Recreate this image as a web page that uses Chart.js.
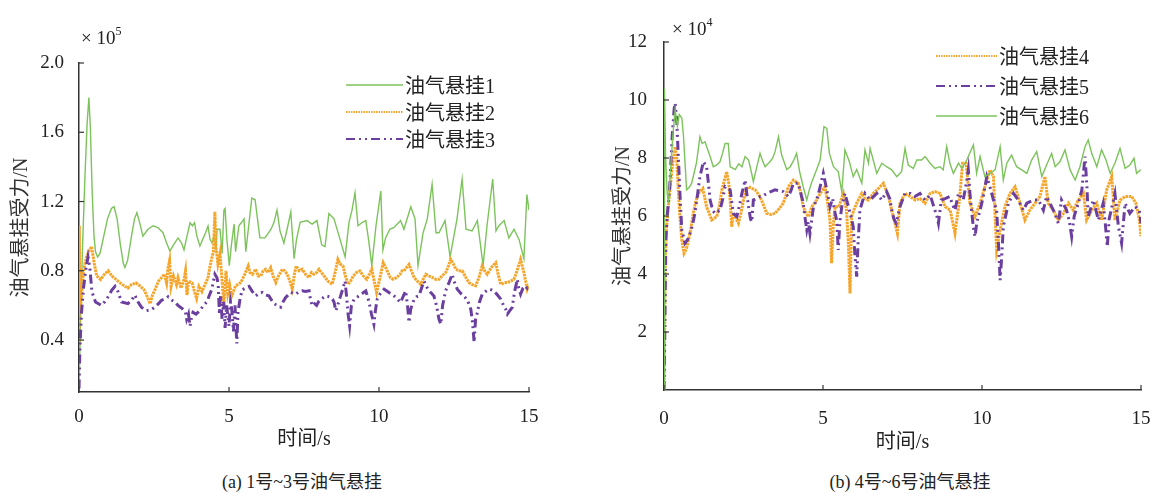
<!DOCTYPE html>
<html>
<head>
<meta charset="utf-8">
<script src="https://cdn.jsdelivr.net/npm/chart.js@4/dist/chart.umd.min.js"></script>
<style>
  html, body { margin: 0; padding: 0; background: #ffffff; }
  body { width: 1151px; height: 493px; position: relative; overflow: hidden; }
  canvas { position: absolute; top: 0; }
  #cA { left: 0; }
  #cB { left: 575px; }
  .mult { position: absolute; font-family: "Liberation Serif", "Times New Roman", Times, serif; font-size: 19px; color: #222; white-space: nowrap; }
  .mult sup { font-size: 12px; position: relative; top: -2px; }
  .cap { position: absolute; top: 470px; font-family: "Liberation Serif", "Times New Roman", Times, "Noto Sans CJK SC", serif; font-size: 18px; line-height: 24px; color: #222; white-space: nowrap; transform: translateX(-50%); }
</style>
</head>
<body>
<canvas id="cA" width="575" height="470"></canvas>
<canvas id="cB" width="576" height="470"></canvas>
<div class="mult" style="left:81px; top:26px;">× 10<sup>5</sup></div>
<div class="mult" style="left:672px; top:17px;">× 10<sup>4</sup></div>
<div class="cap" style="left:302px;">(a) 1号~3号油气悬挂</div>
<div class="cap" style="left:910px;">(b) 4号~6号油气悬挂</div>
<script>
// ---------------- DATA ----------------
const seriesNamesA = ['油气悬挂1', '油气悬挂2', '油气悬挂3'];
const seriesNamesB = ['油气悬挂4', '油气悬挂5', '油气悬挂6'];
const xTicks = [0, 5, 10, 15];
const yTicksA = [0.4, 0.8, 1.2, 1.6, 2.0];
const yTicksB = [2, 4, 6, 8, 10, 12];
const xTitle = '时间/s';
const yTitle = '油气悬挂受力/N';

// [time s, force ×10^5 N]
const susp1 = [[0,0.12],[0.05,0.5],[0.12,0.95],[0.2,1.35],[0.27,1.65],[0.33,1.8],[0.38,1.62],[0.44,1.25],[0.5,1.0],[0.55,0.91],[0.62,0.88],[0.7,0.9],[0.8,0.98],[0.95,1.1],[1.08,1.16],[1.17,1.17],[1.27,1.1],[1.38,0.95],[1.48,0.84],[1.53,0.82],[1.62,0.86],[1.75,1.0],[1.85,1.1],[1.93,1.135],[2.02,1.08],[2.13,1.0],[2.3,1.04],[2.47,1.06],[2.63,1.05],[2.8,1.02],[2.92,0.96],[3.03,0.914],[3.15,0.95],[3.3,0.99],[3.42,0.96],[3.5,0.92],[3.6,1.0],[3.7,1.077],[3.78,1.06],[3.85,1.077],[3.93,1.0],[4.03,0.943],[4.12,0.98],[4.22,1.02],[4.3,1.058],[4.37,0.98],[4.43,0.962],[4.5,1.0],[4.57,0.93],[4.6,1.04],[4.7,1.04],[4.77,0.9],[4.83,1.15],[4.87,1.16],[4.93,0.98],[5.01,0.83],[5.08,0.95],[5.17,1.07],[5.22,0.91],[5.27,0.98],[5.33,1.06],[5.42,1.08],[5.5,1.10],[5.56,0.91],[5.65,1.05],[5.76,1.22],[5.87,1.21],[5.95,1.1],[6.03,0.99],[6.2,0.99],[6.4,1.04],[6.5,1.08],[6.6,1.15],[6.7,1.03],[6.83,0.96],[6.95,1.05],[7.06,1.14],[7.17,0.87],[7.25,0.98],[7.37,1.08],[7.6,1.09],[7.77,1.07],[7.93,1.09],[8.09,0.95],[8.2,0.94],[8.33,1.13],[8.5,1.1],[8.67,1.0],[8.87,0.88],[9.0,1.08],[9.1,1.15],[9.2,1.25],[9.3,1.06],[9.45,1.08],[9.56,1.09],[9.66,0.97],[9.76,0.83],[9.9,1.06],[10.06,1.26],[10.13,0.92],[10.22,0.99],[10.36,1.04],[10.5,1.05],[10.72,1.09],[10.83,1.04],[11.06,1.17],[11.2,1.1],[11.3,0.83],[11.47,1.02],[11.61,1.1],[11.77,1.30],[11.9,1.02],[12.0,1.02],[12.2,1.09],[12.37,0.88],[12.6,1.1],[12.77,1.33],[12.9,1.04],[13.1,1.03],[13.28,1.09],[13.47,0.83],[13.6,1.06],[13.79,1.33],[13.9,1.03],[14.0,1.06],[14.17,1.09],[14.33,0.99],[14.5,1.04],[14.67,0.98],[14.83,0.87],[14.93,1.24],[15.0,1.15]];

const susp2 = [[0,0.37],[0.01,1.06],[0.03,0.55],[0.08,0.65],[0.15,0.8],[0.25,0.88],[0.35,0.92],[0.42,0.94],[0.5,0.85],[0.59,0.77],[0.72,0.75],[0.85,0.78],[0.97,0.8],[1.1,0.77],[1.3,0.74],[1.45,0.72],[1.63,0.70],[1.75,0.72],[1.9,0.73],[2.05,0.71],[2.17,0.69],[2.3,0.64],[2.37,0.61],[2.45,0.66],[2.53,0.69],[2.65,0.74],[2.75,0.76],[2.85,0.78],[2.92,0.73],[2.97,0.82],[3.02,0.86],[3.07,0.71],[3.15,0.77],[3.25,0.72],[3.3,0.76],[3.4,0.7],[3.5,0.75],[3.55,0.8],[3.6,0.66],[3.65,0.74],[3.77,0.73],[3.85,0.68],[3.92,0.64],[4.0,0.71],[4.1,0.68],[4.2,0.72],[4.3,0.76],[4.37,0.83],[4.45,0.89],[4.48,0.91],[4.53,1.14],[4.56,0.95],[4.63,0.84],[4.7,0.9],[4.77,0.74],[4.83,0.6],[4.9,0.8],[4.96,0.67],[5.02,0.72],[5.09,0.655],[5.22,0.713],[5.39,0.732],[5.5,0.77],[5.64,0.828],[5.7,0.79],[5.78,0.78],[5.89,0.809],[5.97,0.77],[6.06,0.77],[6.14,0.8],[6.22,0.809],[6.3,0.79],[6.39,0.818],[6.47,0.77],[6.56,0.732],[6.65,0.77],[6.78,0.809],[6.86,0.8],[6.94,0.78],[7.03,0.74],[7.11,0.694],[7.18,0.78],[7.24,0.828],[7.34,0.8],[7.44,0.809],[7.55,0.78],[7.67,0.761],[7.75,0.79],[7.83,0.78],[7.92,0.79],[8.0,0.809],[8.08,0.79],[8.17,0.77],[8.3,0.74],[8.44,0.722],[8.55,0.8],[8.63,0.866],[8.7,0.84],[8.8,0.828],[8.88,0.77],[8.97,0.722],[9.05,0.74],[9.14,0.77],[9.25,0.79],[9.36,0.799],[9.48,0.77],[9.59,0.751],[9.68,0.78],[9.76,0.809],[9.84,0.74],[9.92,0.675],[10.02,0.75],[10.14,0.847],[10.22,0.82],[10.3,0.79],[10.38,0.76],[10.47,0.751],[10.58,0.76],[10.7,0.78],[10.77,0.8],[10.83,0.799],[10.92,0.82],[11.0,0.837],[11.08,0.8],[11.17,0.761],[11.28,0.74],[11.39,0.722],[11.47,0.75],[11.56,0.78],[11.67,0.77],[11.78,0.761],[11.9,0.75],[12.0,0.751],[12.1,0.77],[12.22,0.79],[12.3,0.82],[12.39,0.866],[12.48,0.84],[12.56,0.809],[12.67,0.8],[12.78,0.799],[12.9,0.76],[13.0,0.732],[13.11,0.72],[13.22,0.713],[13.33,0.76],[13.44,0.828],[13.52,0.8],[13.61,0.78],[13.75,0.82],[13.89,0.847],[13.97,0.78],[14.06,0.722],[14.17,0.73],[14.28,0.732],[14.39,0.74],[14.5,0.751],[14.6,0.8],[14.72,0.866],[14.83,0.79],[14.94,0.694],[15.0,0.72]];

const susp3 = [[0,0.12],[0.03,0.35],[0.08,0.55],[0.15,0.7],[0.22,0.8],[0.3,0.88],[0.36,0.82],[0.43,0.68],[0.55,0.62],[0.65,0.61],[0.74,0.6],[0.85,0.62],[0.97,0.65],[1.1,0.69],[1.2,0.71],[1.3,0.68],[1.42,0.62],[1.63,0.61],[1.75,0.63],[1.86,0.66],[1.97,0.62],[2.08,0.59],[2.25,0.57],[2.4,0.575],[2.53,0.59],[2.65,0.61],[2.75,0.63],[2.9,0.64],[2.97,0.65],[3.1,0.63],[3.2,0.62],[3.3,0.6],[3.45,0.58],[3.55,0.56],[3.59,0.52],[3.65,0.55],[3.7,0.48],[3.75,0.53],[3.8,0.56],[3.9,0.55],[4.03,0.57],[4.15,0.6],[4.26,0.62],[4.35,0.66],[4.42,0.69],[4.53,0.78],[4.6,0.76],[4.64,0.72],[4.68,0.55],[4.72,0.66],[4.77,0.52],[4.82,0.62],[4.87,0.47],[4.92,0.6],[5.0,0.48],[5.05,0.62],[5.09,0.58],[5.15,0.45],[5.2,0.6],[5.26,0.38],[5.3,0.56],[5.37,0.64],[5.44,0.69],[5.55,0.7],[5.67,0.71],[5.78,0.68],[5.89,0.655],[6.0,0.67],[6.11,0.675],[6.22,0.66],[6.33,0.655],[6.42,0.63],[6.5,0.61],[6.6,0.6],[6.72,0.59],[6.8,0.62],[6.89,0.646],[6.97,0.66],[7.06,0.675],[7.15,0.67],[7.22,0.665],[7.35,0.68],[7.44,0.684],[7.55,0.68],[7.67,0.684],[7.72,0.63],[7.78,0.597],[7.85,0.61],[7.92,0.6],[8.0,0.626],[8.1,0.64],[8.22,0.655],[8.35,0.65],[8.45,0.636],[8.5,0.62],[8.56,0.569],[8.62,0.6],[8.72,0.655],[8.8,0.7],[8.87,0.741],[8.92,0.65],[8.97,0.55],[9.02,0.483],[9.08,0.6],[9.17,0.636],[9.25,0.645],[9.33,0.655],[9.45,0.67],[9.56,0.684],[9.62,0.65],[9.67,0.617],[9.75,0.55],[9.83,0.492],[9.88,0.57],[9.94,0.636],[10.05,0.67],[10.17,0.694],[10.25,0.685],[10.33,0.675],[10.42,0.665],[10.5,0.655],[10.6,0.64],[10.72,0.617],[10.8,0.65],[10.89,0.684],[10.95,0.6],[11.0,0.502],[11.06,0.58],[11.17,0.636],[11.25,0.65],[11.33,0.655],[11.42,0.7],[11.5,0.741],[11.58,0.71],[11.67,0.684],[11.75,0.67],[11.83,0.655],[11.9,0.61],[11.94,0.578],[12.0,0.52],[12.06,0.492],[12.12,0.6],[12.22,0.684],[12.33,0.73],[12.44,0.78],[12.5,0.74],[12.61,0.694],[12.72,0.67],[12.83,0.655],[12.95,0.63],[13.06,0.578],[13.12,0.5],[13.17,0.387],[13.22,0.52],[13.28,0.559],[13.35,0.62],[13.44,0.665],[13.55,0.68],[13.67,0.694],[13.75,0.69],[13.83,0.684],[13.95,0.66],[14.06,0.636],[14.15,0.6],[14.22,0.58],[14.28,0.55],[14.36,0.57],[14.44,0.588],[14.52,0.68],[14.61,0.751],[14.66,0.7],[14.72,0.665],[14.8,0.7],[14.87,0.713],[14.94,0.70],[15.0,0.72]];

// [time s, force ×10^4 N]
const susp4 = [[0,0],[0.02,2.0],[0.04,4.5],[0.08,5.6],[0.15,6.5],[0.25,7.6],[0.35,8.39],[0.4,8.0],[0.45,6.9],[0.5,6.0],[0.56,5.17],[0.63,4.71],[0.7,4.85],[0.77,5.17],[0.85,5.6],[0.92,6.09],[1.0,6.5],[1.08,6.78],[1.22,6.95],[1.34,6.32],[1.5,5.86],[1.66,5.98],[1.75,6.4],[1.82,6.9],[1.97,7.53],[2.04,7.1],[2.08,6.55],[2.13,5.63],[2.18,6.1],[2.24,5.98],[2.34,5.75],[2.42,6.1],[2.5,6.55],[2.58,6.9],[2.66,7.01],[2.77,6.95],[2.87,6.9],[3.02,6.67],[3.12,6.4],[3.23,6.09],[3.36,6.05],[3.49,6.09],[3.62,6.25],[3.75,6.44],[3.83,6.7],[3.91,7.01],[4.07,7.24],[4.22,7.13],[4.3,6.8],[4.38,6.32],[4.46,6.1],[4.54,5.98],[4.65,6.32],[4.8,6.55],[4.91,6.78],[5.06,7.01],[5.14,6.5],[5.22,5.86],[5.27,4.37],[5.32,5.6],[5.38,6.32],[5.5,6.32],[5.64,6.78],[5.74,6.2],[5.8,5.0],[5.85,3.33],[5.9,5.98],[5.97,6.2],[6.06,6.44],[6.22,6.78],[6.32,6.6],[6.43,6.55],[6.58,6.78],[6.74,6.95],[6.9,7.13],[7.06,6.67],[7.21,5.98],[7.34,5.4],[7.42,6.44],[7.58,6.78],[7.74,6.67],[7.9,6.55],[8.05,6.6],[8.21,6.44],[8.37,6.78],[8.52,6.84],[8.68,6.78],[8.84,6.32],[9.0,6.2],[9.15,5.4],[9.29,6.55],[9.39,7.82],[9.5,7.82],[9.62,6.44],[9.78,5.98],[9.94,6.44],[10.09,7.01],[10.25,7.59],[10.36,7.36],[10.46,4.83],[10.57,5.52],[10.72,6.32],[10.88,6.78],[11.04,7.01],[11.2,6.44],[11.35,5.86],[11.5,6.2],[11.67,6.44],[11.82,6.67],[11.98,7.36],[12.08,6.44],[12.24,6.2],[12.4,5.86],[12.56,6.09],[12.72,6.44],[12.87,6.2],[13.03,6.55],[13.19,6.78],[13.29,5.86],[13.45,6.2],[13.61,6.44],[13.76,5.86],[13.92,6.9],[14.08,7.36],[14.18,5.86],[14.34,6.55],[14.5,6.67],[14.71,6.67],[14.84,6.44],[14.95,5.86],[15.0,5.3]];

const susp5 = [[0,0],[0.02,1.5],[0.04,3.5],[0.06,5.2],[0.1,6.0],[0.18,7.0],[0.26,8.8],[0.32,9.7],[0.35,9.89],[0.4,9.3],[0.45,8.05],[0.5,6.8],[0.56,5.52],[0.66,5.06],[0.75,5.2],[0.82,5.4],[0.9,5.7],[0.97,6.09],[1.05,6.7],[1.13,7.36],[1.24,7.87],[1.34,7.7],[1.4,7.1],[1.45,6.55],[1.53,6.2],[1.6,6.09],[1.76,6.2],[1.85,6.6],[1.92,7.01],[2.0,6.95],[2.08,6.9],[2.13,6.5],[2.18,6.09],[2.29,5.98],[2.38,6.4],[2.45,6.78],[2.55,7.24],[2.6,6.8],[2.66,6.32],[2.72,5.9],[2.76,5.8],[2.81,6.55],[2.9,6.6],[3.02,6.67],[3.12,6.7],[3.23,6.78],[3.36,6.84],[3.49,6.9],[3.62,6.87],[3.75,6.84],[3.91,6.67],[4.0,6.9],[4.07,7.13],[4.22,7.13],[4.3,6.8],[4.38,6.44],[4.44,5.9],[4.49,5.52],[4.54,5.8],[4.59,5.4],[4.65,5.9],[4.7,6.32],[4.78,6.5],[4.86,6.78],[4.93,7.1],[5.01,7.47],[5.12,6.9],[5.22,6.32],[5.3,6.6],[5.38,6.1],[5.43,5.86],[5.48,4.83],[5.53,5.8],[5.59,6.32],[5.69,6.78],[5.8,6.32],[5.9,5.9],[5.95,5.63],[6.0,4.7],[6.06,3.91],[6.1,5.0],[6.16,6.2],[6.24,6.5],[6.32,6.78],[6.48,6.55],[6.69,6.78],[6.85,6.55],[7.0,6.84],[7.1,6.6],[7.16,6.2],[7.23,5.9],[7.3,5.75],[7.42,6.32],[7.58,6.78],[7.74,6.78],[7.89,6.67],[8.05,6.78],[8.21,6.55],[8.37,6.72],[8.52,6.2],[8.58,6.0],[8.63,5.75],[8.72,6.55],[8.84,6.6],[8.99,6.67],[9.07,6.4],[9.15,6.2],[9.26,6.78],[9.41,6.55],[9.52,7.2],[9.57,7.59],[9.62,6.8],[9.67,6.2],[9.73,5.6],[9.78,5.29],[9.84,5.8],[9.94,6.2],[10.04,6.67],[10.15,7.36],[10.25,7.01],[10.36,6.55],[10.46,6.2],[10.52,5.0],[10.57,3.79],[10.62,4.6],[10.67,5.63],[10.83,6.44],[10.99,6.78],[11.14,6.55],[11.3,6.2],[11.41,6.44],[11.62,6.55],[11.78,6.55],[11.93,6.2],[12.03,6.67],[12.14,6.44],[12.29,6.09],[12.4,5.75],[12.5,6.55],[12.66,6.2],[12.75,5.8],[12.82,5.29],[12.9,6.0],[13.03,6.44],[13.14,6.9],[13.24,8.05],[13.3,7.0],[13.34,5.98],[13.5,6.55],[13.66,5.86],[13.81,6.44],[13.88,5.7],[13.94,4.94],[14.0,5.9],[14.18,6.78],[14.29,5.63],[14.39,5.06],[14.5,6.44],[14.65,6.09],[14.81,6.32],[14.95,6.2],[15.0,5.75]];

const susp6 = [[0,0],[0.01,5],[0.02,10.4],[0.05,8.0],[0.1,6.8],[0.14,6.45],[0.2,7.5],[0.28,8.8],[0.35,9.66],[0.42,9.1],[0.48,9.5],[0.56,9.38],[0.61,8.8],[0.65,8.05],[0.71,6.9],[0.8,7.0],[0.87,7.13],[0.95,7.5],[1.02,7.83],[1.13,8.73],[1.2,8.5],[1.29,8.56],[1.37,8.3],[1.45,8.05],[1.55,7.7],[1.65,7.75],[1.76,7.87],[1.85,8.2],[1.92,8.5],[2.02,8.5],[2.08,7.7],[2.24,7.6],[2.35,7.8],[2.45,7.7],[2.55,8.05],[2.66,7.93],[2.75,7.5],[2.81,7.18],[2.92,7.7],[3.02,8.16],[3.1,7.9],[3.18,7.7],[3.33,7.87],[3.42,8.0],[3.49,8.21],[3.6,8.73],[3.7,8.1],[3.86,7.6],[3.97,7.7],[4.07,7.9],[4.17,8.16],[4.27,7.5],[4.38,7.0],[4.49,6.55],[4.57,6.9],[4.65,7.18],[4.8,7.6],[4.91,7.93],[5.03,9.08],[5.12,9.02],[5.2,8.16],[5.33,7.7],[5.48,7.53],[5.59,6.84],[5.69,8.28],[5.83,7.87],[5.95,7.36],[6.06,7.6],[6.22,7.13],[6.32,8.28],[6.43,7.82],[6.48,8.33],[6.58,7.93],[6.69,7.47],[6.85,7.82],[7.0,7.7],[7.16,7.59],[7.32,7.36],[7.47,7.53],[7.58,8.33],[7.68,7.76],[7.84,7.64],[7.95,7.93],[8.1,7.93],[8.21,8.05],[8.37,7.82],[8.52,7.64],[8.68,7.7],[8.78,7.59],[8.89,8.39],[8.99,7.82],[9.1,7.47],[9.26,7.82],[9.37,7.64],[9.52,7.93],[9.73,8.45],[9.83,7.47],[9.94,8.05],[10.09,7.36],[10.25,7.47],[10.41,7.59],[10.57,8.39],[10.67,7.24],[10.78,7.82],[10.93,8.1],[11.09,7.7],[11.25,7.59],[11.41,7.47],[11.56,7.93],[11.72,8.22],[11.88,7.36],[12.03,7.76],[12.19,8.16],[12.3,7.7],[12.45,7.87],[12.61,8.28],[12.77,7.59],[12.93,7.24],[13.08,7.7],[13.24,8.39],[13.34,8.62],[13.45,8.16],[13.61,7.7],[13.76,8.28],[13.9,7.93],[14.03,7.47],[14.18,7.82],[14.34,8.33],[14.5,7.64],[14.65,7.76],[14.78,7.99],[14.86,7.47],[14.99,7.59]];

// ---------------- STYLE ----------------
const GREEN = '#7cc35b', ORANGE = '#f4a52a', PURPLE = '#6a3f9f', AXIS = '#333333', TEXT = '#222222';
const SERIF = '"Liberation Serif", "Times New Roman", Times, serif';
const TICK_FONT = { family: SERIF, size: 19 };
const CJK_FONT = '"Liberation Serif", "Times New Roman", "Noto Sans CJK SC", serif';

const styleGreen = { borderColor: GREEN, borderWidth: 1.4, borderDash: [] };
const styleOrange = { borderColor: ORANGE, borderWidth: 3, borderDash: [2.5, 0.8] };
const stylePurple = { borderColor: PURPLE, borderWidth: 3, borderDash: [9, 4, 2, 4, 2, 4] };

function ds(label, pts, style, order) {
  return Object.assign({
    label, order,
    data: pts.map(p => ({ x: p[0], y: p[1] })),
    pointRadius: 0, tension: 0, fill: false
  }, style);
}

const legendPlugin = {
  id: 'customLegend',
  afterDraw(chart, args, opts) {
    const ctx = chart.ctx;
    ctx.save();
    chart.data.datasets.forEach((d, i) => {
      const y = opts.y0 + i * opts.dy;
      ctx.beginPath();
      ctx.strokeStyle = d.borderColor;
      ctx.lineWidth = Math.min(d.borderWidth, 2.2);
      ctx.setLineDash(d.borderDash && d.borderDash.length ? (d.borderDash[0] < 3 ? [1.5, 1] : d.borderDash) : []);
      ctx.moveTo(opts.x1, y);
      ctx.lineTo(opts.x2, y);
      ctx.stroke();
      ctx.setLineDash([]);
      ctx.fillStyle = TEXT;
      ctx.font = '20px ' + CJK_FONT;
      ctx.textBaseline = 'middle';
      ctx.textAlign = 'left';
      ctx.fillText(d.label, opts.x2 + 2, y + 3);
    });
    ctx.restore();
  }
};

const inTicksPlugin = {
  id: 'inTicks',
  afterDraw(chart) {
    const ctx = chart.ctx, a = chart.chartArea;
    ctx.save();
    ctx.strokeStyle = AXIS;
    ctx.lineWidth = 1.2;
    const xs = chart.scales.x, ys = chart.scales.y;
    xs.ticks.forEach(t => {
      const px = xs.getPixelForValue(t.value);
      ctx.beginPath(); ctx.moveTo(px, a.bottom); ctx.lineTo(px, a.bottom - 5); ctx.stroke();
    });
    ys.ticks.forEach(t => {
      const py = ys.getPixelForValue(t.value);
      ctx.beginPath(); ctx.moveTo(a.left, py); ctx.lineTo(a.left + 5, py); ctx.stroke();
    });
    ctx.restore();
  }
};

function makeChart(id, datasets, cfg) {
  return new Chart(document.getElementById(id), {
    type: 'line',
    data: { datasets },
    plugins: [legendPlugin, inTicksPlugin],
    options: {
      responsive: false,
      animation: false,
      events: [],
      layout: { padding: { left: 0, top: cfg.top, right: cfg.right, bottom: 0 } },
      plugins: {
        legend: { display: false },
        tooltip: { enabled: false },
        customLegend: cfg.legend
      },
      scales: {
        x: {
          type: 'linear', min: 0, max: 15,
          afterBuildTicks: s => { s.ticks = xTicks.map(v => ({ value: v })); },
          afterFit: s => { s.height = cfg.xH; s.paddingLeft = 0; s.paddingRight = 0; },
          grid: { display: false },
          border: { display: true, color: AXIS, width: 1.5 },
          ticks: { font: TICK_FONT, color: TEXT, padding: cfg.xPad, maxRotation: 0, autoSkip: false, callback: v => String(v) },
          title: { display: true, text: xTitle, color: TEXT, font: { family: CJK_FONT, size: 20 }, padding: { top: 0, bottom: cfg.xTitlePad } }
        },
        y: {
          type: 'linear', min: cfg.yMin, max: cfg.yMax,
          afterBuildTicks: s => { s.ticks = cfg.yTicks.map(v => ({ value: v })); },
          afterFit: s => { s.width = cfg.yW; s.paddingTop = 0; s.paddingBottom = 0; },
          grid: { display: false },
          border: { display: true, color: AXIS, width: 1.5 },
          ticks: { font: TICK_FONT, color: TEXT, padding: cfg.yPad, autoSkip: false, callback: cfg.fmt },
          title: { display: true, text: yTitle, color: '#333', font: { family: CJK_FONT, size: 20 }, padding: { top: cfg.yTitlePad, bottom: 0 } }
        }
      }
    }
  });
}

makeChart('cA', [
  ds(seriesNamesA[0], susp1, styleGreen, 3),
  ds(seriesNamesA[1], susp2, styleOrange, 2),
  ds(seriesNamesA[2], susp3, stylePurple, 1)
], {
  top: 63, right: 46, xH: 78, yW: 79, xPad: 6, yPad: 7, xTitlePad: 18, yTitlePad: 10,
  yMin: 0.1, yMax: 2.0, yTicks: yTicksA, fmt: v => v.toFixed(1),
  legend: { x1: 346, x2: 403, y0: 85, dy: 27 }
});

makeChart('cB', [
  ds(seriesNamesB[0], susp4, styleOrange, 3),
  ds(seriesNamesB[1], susp5, stylePurple, 2),
  ds(seriesNamesB[2], susp6, styleGreen, 1)
], {
  top: 42, right: 10, xH: 80, yW: 89, xPad: 10, yPad: 9, xTitlePad: 15, yTitlePad: 37,
  yMin: 0, yMax: 12, yTicks: yTicksB, fmt: v => String(v),
  legend: { x1: 361, x2: 422, y0: 56, dy: 30 }
});
</script>
</body>
</html>
